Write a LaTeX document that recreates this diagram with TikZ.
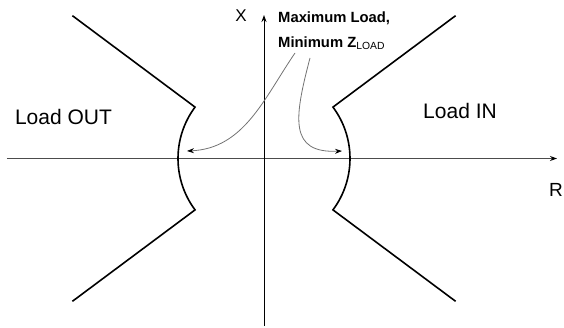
\documentclass[tikz,border=0pt]{standalone}
\usepackage{fontspec}
\setmainfont{Liberation Sans}
\usetikzlibrary{arrows.meta,calc}

\begin{document}
\begin{tikzpicture}[x=1pt,y=1pt,
  lbl/.style={inner sep=0pt,font=\fontsize{21}{24}\selectfont},
  ann/.style={black!55,line width=0.8pt,-{Stealth[length=7pt,width=5pt,black]}},
  zone/.style={line width=1.6pt,line join=miter}]
\useasboundingbox (-264,-169.5) rectangle (300,158.5);
% Axes
\coordinate (o) at (0,0);
\coordinate (rl) at (-257,0);
\coordinate (rr) at (293,0);
\coordinate (xb) at (0,-167.5);
\coordinate (xt) at (0,143.5);
\draw[black!70,line width=1pt,-{Stealth[length=7pt,width=5pt,black]}] (rl) -- (rr);
\draw[black,line width=1pt,-{Stealth[length=7pt,width=5pt]}] (xb) -- (xt);
\node[lbl,font=\fontsize{17}{20}\selectfont] (xlab) at (-23,142.5) {X};
\node[lbl,font=\fontsize{19}{22}\selectfont] (rlab) at (292,-31.5) {R};
% Mho-type boundary, both halves
\draw[zone] (143.3:239) -- (143.3:86) arc (143.3:216.7:86) -- (216.7:239);
\draw[zone] (36.7:239) -- (36.7:86) arc (36.7:-36.7:86) -- (-36.7:239);
% Region labels
\node[lbl] (out) at (-200.5,41.5) {Load OUT};
\node[lbl] (in) at (196,47.5) {Load IN};
% Note and its two pointers
\node[inner sep=0pt,anchor=north west,align=left,
  font=\fontsize{14.8}{25}\selectfont\bfseries] (note) at (14,147)
  {Maximum Load,\\Minimum Z\textsubscript{\mdseries LOAD}};
\coordinate (s1) at (31,105.5);
\coordinate (e1) at (-77,7.5);
\coordinate (s2) at (46,100.5);
\coordinate (e2) at (78,7.5);
\draw[ann] (s1) .. controls (0,60) and (-20,10) .. (e1);
\draw[ann] (s2) .. controls (30,40) and (25,5) .. (e2);
\end{tikzpicture}
\end{document}
